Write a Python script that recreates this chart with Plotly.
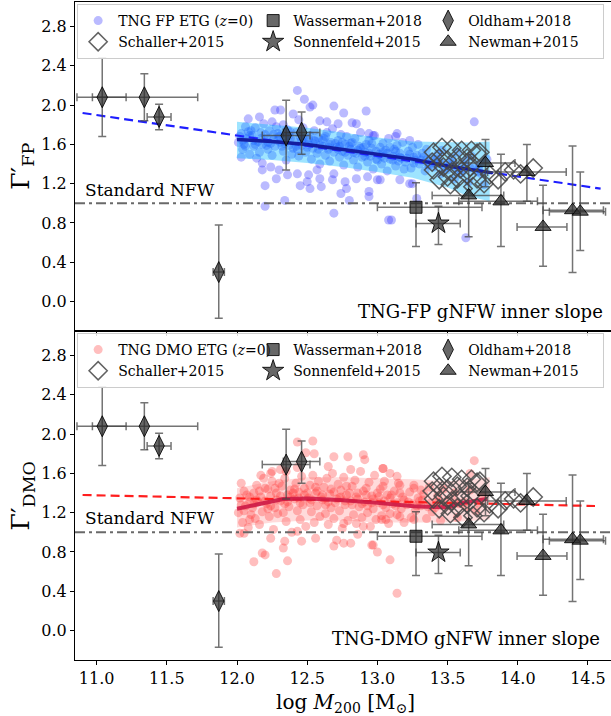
import plotly.graph_objects as go

# ---------------- data ----------------
# TNG FP ETG (z=0) galaxies: (log M200, Gamma'_FP)
fp_etg = [
    (12.01,1.62),(12.03,1.71),(12.04,1.55),(12.06,1.78),(12.07,1.66),(12.09,1.50),(12.05,1.60),(12.08,1.73),
    (12.11,1.69),(12.12,1.58),(12.13,1.77),(12.15,1.63),(12.16,1.52),(12.17,1.72),(12.18,1.60),(12.19,1.81),(12.14,1.46),
    (12.21,1.66),(12.22,1.55),(12.23,1.74),(12.24,1.61),(12.25,1.49),(12.26,1.70),(12.27,1.58),(12.28,1.78),(12.29,1.64),(12.25,1.83),
    (12.31,1.62),(12.32,1.71),(12.33,1.53),(12.34,1.67),(12.35,1.44),(12.36,1.75),(12.37,1.59),(12.38,1.66),(12.39,1.50),(12.33,1.80),
    (12.41,1.63),(12.42,1.72),(12.43,1.55),(12.44,1.48),(12.45,1.68),(12.46,1.59),(12.47,1.77),(12.48,1.62),(12.49,1.52),(12.44,1.85),
    (12.51,1.60),(12.52,1.69),(12.53,1.45),(12.54,1.56),(12.55,1.74),(12.56,1.63),(12.57,1.51),(12.58,1.67),(12.59,1.40),
    (12.61,1.58),(12.62,1.66),(12.63,1.49),(12.64,1.72),(12.65,1.55),(12.66,1.43),(12.67,1.62),(12.68,1.76),(12.69,1.52),
    (12.71,1.57),(12.72,1.64),(12.73,1.47),(12.74,1.70),(12.75,1.53),(12.76,1.39),(12.77,1.60),(12.78,1.68),(12.79,1.49),
    (12.81,1.55),(12.82,1.62),(12.83,1.44),(12.84,1.66),(12.85,1.51),(12.86,1.37),(12.87,1.58),(12.88,1.72),(12.89,1.47),
    (12.91,1.52),(12.92,1.60),(12.93,1.42),(12.94,1.64),(12.95,1.48),(12.96,1.56),(12.97,1.35),(12.98,1.69),(12.99,1.45),
    (13.01,1.50),(13.02,1.57),(13.03,1.40),(13.04,1.61),(13.05,1.46),(13.06,1.54),(13.07,1.33),(13.08,1.66),
    (13.11,1.48),(13.12,1.55),(13.13,1.38),(13.14,1.59),(13.15,1.43),(13.16,1.51),(13.18,1.62),(13.19,1.35),
    (13.21,1.46),(13.22,1.53),(13.24,1.36),(13.25,1.57),(13.26,1.41),(13.28,1.49),(13.29,1.60),
    (13.31,1.44),(13.32,1.51),(13.34,1.33),(13.35,1.55),(13.37,1.39),(13.38,1.47),
    (13.41,1.41),(13.43,1.50),(13.45,1.30),(13.46,1.54),(13.48,1.36),
    (13.51,1.38),(13.53,1.46),(13.55,1.25),(13.57,1.52),(13.58,1.33),
    (13.61,1.35),(13.63,1.44),(13.65,1.22),(13.67,1.48),
    (13.71,1.32),(13.73,1.40),(13.76,1.19),(13.78,1.45),
    # second layer of the dense core
    (12.02,1.68),(12.06,1.58),(12.10,1.74),(12.12,1.64),(12.20,1.70),(12.22,1.62),(12.30,1.68),(12.32,1.58),
    (12.38,1.73),(12.40,1.56),(12.47,1.66),(12.50,1.57),(12.55,1.64),(12.58,1.55),(12.63,1.68),(12.66,1.60),
    (12.72,1.55),(12.75,1.62),(12.80,1.58),(12.83,1.52),(12.88,1.56),(12.91,1.48),(12.96,1.61),(13.00,1.44),
    (13.04,1.52),(13.09,1.45),(13.13,1.53),(13.17,1.46),(13.23,1.50),(13.27,1.44),(13.33,1.47),(13.36,1.40),
    (13.42,1.45),(13.47,1.40),(13.52,1.42),(13.56,1.36),(13.62,1.39),(13.69,1.36),(13.74,1.30),
    # third layer of the dense core
    (12.04,1.64),(12.09,1.69),(12.13,1.60),(12.17,1.66),(12.21,1.59),(12.26,1.65),(12.29,1.71),(12.34,1.61),
    (12.37,1.69),(12.42,1.58),(12.46,1.64),(12.51,1.66),(12.54,1.61),(12.59,1.59),(12.61,1.64),(12.65,1.57),
    (12.70,1.61),(12.73,1.58),(12.77,1.52),(12.81,1.61),(12.86,1.54),(12.90,1.57),(12.94,1.51),(12.99,1.53),
    (13.03,1.48),(13.07,1.51),(13.11,1.44),(13.16,1.47),(13.20,1.42),(13.26,1.47),(13.30,1.40),(13.35,1.44),
    (13.40,1.37),(13.44,1.42),(13.50,1.34),(13.54,1.39),(13.60,1.31),(13.66,1.36),(13.72,1.35),
    # scattered outliers
    (12.43,2.15),(12.48,2.06),(12.52,1.98),(12.54,2.00),(12.69,1.99),(12.76,1.92),(12.92,1.94),(12.27,1.95),
    (12.31,1.95),(12.40,1.91),(12.08,1.86),(12.16,1.88),(12.59,1.84),(12.64,1.83),(12.72,1.81),(12.82,1.82),
    (12.85,1.81),(12.94,1.71),(12.97,1.69),(12.03,1.47),(12.18,1.41),(12.24,1.37),(12.30,1.34),(12.28,1.25),
    (12.20,1.18),(12.36,1.29),(12.43,1.30),(12.51,1.29),(12.45,1.18),(12.50,1.22),(12.52,1.15),(12.60,1.17),
    (12.59,1.25),(12.68,1.24),(12.69,1.30),(12.77,1.22),(12.78,1.15),(12.85,1.25),(12.93,1.27),(13.00,1.24),
    (12.94,1.12),(12.94,1.07),(12.80,1.03),(12.69,0.90),(12.20,0.97),(12.34,1.03),(13.08,0.83),(12.74,1.10),
    (12.57,1.34),(12.18,1.34),(13.69,1.83),(13.14,1.71),(13.13,1.68),(13.23,1.64),(13.09,1.57),(13.16,1.24),
    (13.23,1.20),(13.02,1.24),(13.10,0.83),(13.63,0.65),(13.28,1.05),(13.25,1.20),
]

# TNG DMO ETG (z=0) galaxies: (log M200, Gamma'_DMO)
dmo_etg = [
    (12.01,1.20),(12.02,1.35),(12.04,1.10),(12.05,1.42),(12.06,1.27),(12.08,1.05),(12.09,1.31),(12.03,1.50),
    (12.11,1.25),(12.12,1.40),(12.13,1.14),(12.14,1.48),(12.15,1.31),(12.16,1.08),(12.17,1.36),(12.18,1.21),(12.19,1.55),
    (12.21,1.29),(12.22,1.44),(12.23,1.16),(12.24,1.37),(12.25,1.52),(12.26,1.03),(12.27,1.25),(12.28,1.40),(12.29,1.19),(12.24,1.60),
    (12.31,1.32),(12.32,1.47),(12.33,1.20),(12.34,1.55),(12.35,1.11),(12.36,1.38),(12.37,1.26),(12.38,1.43),(12.39,1.00),(12.35,1.62),
    (12.41,1.34),(12.42,1.50),(12.43,1.22),(12.44,1.41),(12.45,1.13),(12.46,1.57),(12.47,1.28),(12.48,1.45),(12.49,1.06),(12.43,1.66),
    (12.51,1.35),(12.52,1.48),(12.53,1.21),(12.54,1.58),(12.55,1.10),(12.56,1.40),(12.57,1.27),(12.58,1.52),(12.59,1.16),
    (12.61,1.33),(12.62,1.46),(12.63,1.19),(12.64,1.55),(12.65,1.08),(12.66,1.39),(12.67,1.25),(12.68,1.60),(12.69,1.14),
    (12.71,1.34),(12.72,1.49),(12.73,1.22),(12.74,1.43),(12.75,1.04),(12.76,1.56),(12.77,1.28),(12.78,1.38),(12.79,1.12),
    (12.81,1.32),(12.82,1.47),(12.83,1.18),(12.84,1.53),(12.85,1.09),(12.86,1.40),(12.87,1.26),(12.88,1.62),(12.89,1.15),
    (12.91,1.31),(12.92,1.45),(12.93,1.20),(12.94,1.51),(12.95,1.06),(12.96,1.37),(12.97,1.24),(12.98,1.58),(12.99,1.13),
    (13.01,1.30),(13.02,1.44),(13.03,1.17),(13.05,1.52),(13.06,1.25),(13.07,1.38),(13.08,1.09),
    (13.11,1.29),(13.12,1.42),(13.14,1.18),(13.15,1.50),(13.17,1.24),(13.18,1.36),(13.19,1.10),
    (13.21,1.28),(13.23,1.41),(13.24,1.15),(13.26,1.48),(13.27,1.22),(13.29,1.35),
    (13.31,1.27),(13.33,1.39),(13.35,1.14),(13.37,1.46),(13.39,1.21),
    (13.41,1.25),(13.43,1.37),(13.45,1.12),(13.47,1.44),
    (13.52,1.27),(13.55,1.40),(13.57,1.15),
    (13.62,1.31),(13.66,1.43),(13.70,1.22),(13.75,1.37),
    # second layer of the dense core
    (12.03,1.28),(12.07,1.38),(12.10,1.18),(12.14,1.33),(12.20,1.45),(12.22,1.24),(12.28,1.33),(12.30,1.50),
    (12.34,1.29),(12.38,1.36),(12.41,1.44),(12.45,1.30),(12.50,1.40),(12.52,1.30),(12.56,1.46),(12.60,1.36),
    (12.63,1.28),(12.67,1.44),(12.70,1.30),(12.74,1.36),(12.78,1.47),(12.82,1.28),(12.86,1.34),(12.90,1.42),
    (12.93,1.27),(12.97,1.34),(13.00,1.40),(13.04,1.28),(13.09,1.35),(13.13,1.27),(13.16,1.40),(13.22,1.31),
    (13.28,1.27),(13.32,1.33),(13.38,1.30),(13.44,1.30),(13.50,1.33),(13.58,1.29),
    # third layer of the dense core
    (12.05,1.22),(12.09,1.36),(12.12,1.29),(12.16,1.42),(12.20,1.32),(12.24,1.27),(12.27,1.45),(12.31,1.37),
    (12.36,1.31),(12.40,1.40),(12.44,1.35),(12.48,1.38),(12.53,1.33),(12.57,1.42),(12.61,1.38),(12.65,1.31),
    (12.69,1.41),(12.73,1.35),(12.77,1.32),(12.80,1.40),(12.85,1.36),(12.89,1.29),(12.92,1.38),(12.96,1.30),
    (13.01,1.36),(13.05,1.32),(13.10,1.38),(13.14,1.30),(13.19,1.33),(13.25,1.29),(13.30,1.32),(13.36,1.26),
    (13.42,1.31),(13.48,1.27),(13.55,1.31),(13.63,1.26),(13.72,1.30),
    # scattered outliers
    (12.43,1.92),(12.54,1.93),(12.49,1.81),(12.55,1.80),(12.69,1.77),(12.79,1.77),(12.90,1.79),(12.91,1.74),
    (13.04,1.65),(12.17,1.58),(12.25,1.62),(12.31,1.64),(12.65,1.67),(12.81,1.64),(13.09,0.72),(13.00,0.80),
    (12.97,0.87),(12.81,0.89),(12.76,0.89),(12.69,0.86),(12.71,0.92),(12.56,0.94),(12.46,0.91),(12.34,0.91),
    (12.33,0.84),(12.18,0.79),(12.20,0.77),(12.12,0.70),(12.36,0.71),(12.28,0.58),(12.24,0.94),(12.05,0.99),
    (12.02,0.99),(12.09,1.13),(12.43,1.01),(12.86,0.98),(12.76,1.09),(12.90,1.06),(13.06,1.13),(13.69,1.73),
    (13.66,1.60),(13.04,1.65),(13.09,1.60),(13.14,1.57),(13.16,1.48),(13.26,1.45),(13.31,1.43),(13.04,1.47),
    (13.09,1.19),(13.16,1.16),(13.26,1.13),(13.03,1.13),(13.14,0.38),(12.96,0.87),
]

# median relations and 1-sigma bands
fp_med_x = [12.0, 12.25, 12.5, 12.75, 13.0, 13.25, 13.5, 13.75, 13.82]
fp_med_y = [1.65, 1.63, 1.60, 1.55, 1.50, 1.45, 1.38, 1.33, 1.31]
fp_band_x = [12.0, 12.25, 12.5, 12.75, 13.0, 13.25, 13.5, 13.65, 13.8]
fp_band_lo = [1.46, 1.44, 1.41, 1.37, 1.32, 1.26, 1.16, 1.07, 1.02]
fp_band_hi = [1.83, 1.80, 1.77, 1.72, 1.67, 1.63, 1.62, 1.62, 1.63]
fp_fit_x = [10.9, 14.59]
fp_fit_y = [1.92, 1.15]

dmo_med_x = [12.0, 12.15, 12.33, 12.5, 12.73, 13.0, 13.1, 13.26, 13.45, 13.52, 13.6, 13.78]
dmo_med_y = [1.24, 1.29, 1.34, 1.345, 1.33, 1.30, 1.285, 1.265, 1.255, 1.26, 1.30, 1.34]
dmo_band_x = [12.0, 12.25, 12.5, 12.75, 13.0, 13.25, 13.5, 13.8]
dmo_band_lo = [1.05, 1.10, 1.12, 1.12, 1.10, 1.10, 1.10, 1.13]
dmo_band_hi = [1.45, 1.52, 1.56, 1.56, 1.55, 1.54, 1.52, 1.56]
dmo_fit_x = [10.9, 14.55]
dmo_fit_y = [1.38, 1.268]

nfw_x = [10.846, 14.664]
nfw_y = [1.0, 1.0]

# observations
oldham_x = [11.04, 11.34, 11.445, 11.87, 12.35, 12.46]
oldham_y = [2.08, 2.08, 1.88, 0.30, 1.69, 1.72]
oldham_xm = [0.18, 0.37, 0.085, 0.04, 0.17, 0.13]
oldham_xp = [0.17, 0.38, 0.085, 0.04, 0.17, 0.13]
oldham_ym = [0.40, 0.24, 0.13, 0.47, 0.35, 0.22]
oldham_yp = [0.40, 0.24, 0.13, 0.48, 0.36, 0.21]

wass_x = [13.275]; wass_y = [0.96]
wass_xm = [0.275]; wass_xp = [0.47]
wass_ym = [0.40]; wass_yp = [0.25]

sonn_x = [13.435]; sonn_y = [0.795]
sonn_xm = [0.16]; sonn_xp = [0.155]
sonn_ym = [0.215]; sonn_yp = [0.175]

newman_x = [13.65, 13.77, 13.88, 14.065, 14.18, 14.39, 14.445]
newman_y = [1.08, 1.41, 1.02, 1.32, 0.76, 0.93, 0.915]
newman_xm = [0.26, 0.21, 0.30, 0.28, 0.185, 0.21, 0.22]
newman_xp = [0.25, 0.21, 0.26, 0.28, 0.17, 0.22, 0.18]
newman_ym = [0.42, 0.24, 0.46, 0.30, 0.40, 0.635, 0.395]
newman_yp = [0.42, 0.24, 0.48, 0.28, 0.425, 0.655, 0.405]

schaller_x = [13.40, 13.46, 13.53, 13.60, 13.67, 13.73, 13.39, 13.44, 13.50, 13.57, 13.64, 13.71,
              13.40, 13.47, 13.53, 13.59, 13.66, 13.44, 13.50, 13.57, 13.64, 13.71, 13.76, 13.80,
              13.86, 13.91, 13.97, 13.52, 13.61, 13.68, 14.11, 14.02]
schaller_y = [1.52, 1.57, 1.56, 1.54, 1.54, 1.52, 1.42, 1.46, 1.44, 1.47, 1.46, 1.51,
              1.34, 1.37, 1.32, 1.35, 1.37, 1.24, 1.27, 1.25, 1.29, 1.25, 1.20, 1.29,
              1.24, 1.32, 1.34, 1.19, 1.15, 1.17, 1.36, 1.30]

xticks = [11.0, 11.5, 12.0, 12.5, 13.0, 13.5, 14.0, 14.5]
yticks = [0.0, 0.4, 0.8, 1.2, 1.6, 2.0, 2.4, 2.8]

# ---------------- figure ----------------
FONT = "DejaVu Serif, serif"
ERRC = "rgba(70,70,70,0.75)"
MFILL = "rgba(45,45,45,0.72)"
MEDGE = "rgba(0,0,0,0.85)"

fig = go.Figure()

panels = [
    dict(xa="x", ya="y", leg="legend", pts=fp_etg, ptcol="rgba(40,40,255,0.32)",
         legname="TNG FP ETG (<i>z</i>=0)",
         bx=fp_band_x, blo=fp_band_lo, bhi=fp_band_hi, bcol="rgba(0,185,255,0.38)",
         mx=fp_med_x, my=fp_med_y, mcol="rgb(20,30,160)", mw=3.5,
         fx=fp_fit_x, fy=fp_fit_y, fcol="rgb(30,30,255)"),
    dict(xa="x2", ya="y2", leg="legend2", pts=dmo_etg, ptcol="rgba(255,40,40,0.3)",
         legname="TNG DMO ETG (<i>z</i>=0)",
         bx=dmo_band_x, blo=dmo_band_lo, bhi=dmo_band_hi, bcol="rgba(255,90,90,0.22)",
         mx=dmo_med_x, my=dmo_med_y, mcol="rgba(205,25,70,0.9)", mw=4,
         fx=dmo_fit_x, fy=dmo_fit_y, fcol="rgb(255,30,30)"),
]

for p in panels:
    xa, ya, leg = p["xa"], p["ya"], p["leg"]
    px = [q[0] for q in p["pts"]]
    py = [q[1] for q in p["pts"]]
    # simulated galaxies
    fig.add_trace(go.Scatter(x=px, y=py, mode="markers", xaxis=xa, yaxis=ya, legend=leg,
                             name=p["legname"], showlegend=True,
                             marker=dict(size=9, color=p["ptcol"], line=dict(width=0))))
    # band
    fig.add_trace(go.Scatter(x=p["bx"], y=p["bhi"], mode="lines", xaxis=xa, yaxis=ya,
                             line=dict(width=0), showlegend=False, hoverinfo="skip"))
    fig.add_trace(go.Scatter(x=p["bx"], y=p["blo"], mode="lines", xaxis=xa, yaxis=ya,
                             fill="tonexty", fillcolor=p["bcol"],
                             line=dict(width=0), showlegend=False, hoverinfo="skip"))
    # NFW
    fig.add_trace(go.Scatter(x=nfw_x, y=nfw_y, mode="lines", xaxis=xa, yaxis=ya, showlegend=False,
                             line=dict(color="rgb(105,105,105)", width=2, dash="10px,4px,3px,4px")))
    # fit (dashed)
    fig.add_trace(go.Scatter(x=p["fx"], y=p["fy"], mode="lines", xaxis=xa, yaxis=ya, showlegend=False,
                             line=dict(color=p["fcol"], width=2.2, dash="9px,5px")))
    # median
    fig.add_trace(go.Scatter(x=p["mx"], y=p["my"], mode="lines", xaxis=xa, yaxis=ya, showlegend=False,
                             line=dict(color=p["mcol"], width=p["mw"])))

    def obs(x, y, xm, xp, ym, yp, name, symbol, size):
        fig.add_trace(go.Scatter(
            x=x, y=y, mode="markers", xaxis=xa, yaxis=ya, legend=leg, name=name,
            marker=dict(symbol=symbol, size=size, color=MFILL, line=dict(color=MEDGE, width=1)),
            error_x=dict(type="data", symmetric=False, array=xp, arrayminus=xm,
                         color=ERRC, thickness=1.5, width=4),
            error_y=dict(type="data", symmetric=False, array=yp, arrayminus=ym,
                         color=ERRC, thickness=1.5, width=4)))

    # legend order (row-wise): TNG, Wasserman, Oldham, Schaller, Sonnenfeld, Newman
    obs(wass_x, wass_y, wass_xm, wass_xp, wass_ym, wass_yp, "Wasserman+2018", "square", 12)
    obs(oldham_x, oldham_y, oldham_xm, oldham_xp, oldham_ym, oldham_yp, "Oldham+2018", "diamond-tall", 15)
    fig.add_trace(go.Scatter(x=schaller_x, y=schaller_y, mode="markers", xaxis=xa, yaxis=ya,
                             legend=leg, name="Schaller+2015",
                             marker=dict(symbol="diamond-open", size=14,
                                         color="rgba(70,70,70,0.85)", line=dict(width=1.5))))
    obs(sonn_x, sonn_y, sonn_xm, sonn_xp, sonn_ym, sonn_yp, "Sonnenfeld+2015", "star", 16)
    obs(newman_x, newman_y, newman_xm, newman_xp, newman_ym, newman_yp, "Newman+2015", "triangle-up", 14)

axis_common = dict(showgrid=False, zeroline=False, showline=True, mirror=True,
                   linecolor="black", linewidth=1.2, ticks="outside", ticklen=4,
                   tickcolor="black", tickwidth=1.1,
                   tickfont=dict(family=FONT, size=16, color="black"))

xr = [10.846, 14.664]
yr = [-0.3, 3.05]
ytext = ["%.1f" % v for v in yticks]
xtext = ["%.1f" % v for v in xticks]

legend_common = dict(orientation="h", xanchor="left", yanchor="top", traceorder="normal",
                     font=dict(family=FONT, size=14, color="black"),
                     bgcolor="rgba(255,255,255,0.85)", bordercolor="#cccccc", borderwidth=1,
                     itemwidth=30, entrywidth=130, entrywidthmode="pixels", tracegroupgap=0)

fig.update_layout(
    width=611, height=716,
    font=dict(family=FONT, color="black"),
    margin=dict(l=75, r=0, t=2, b=56),
    plot_bgcolor="white", paper_bgcolor="white",
    xaxis=dict(domain=[0, 1], range=xr, anchor="y", tickvals=xticks, showticklabels=False, **axis_common),
    yaxis=dict(domain=[0.5, 1], range=yr, anchor="x", tickvals=yticks, ticktext=ytext, **axis_common),
    xaxis2=dict(domain=[0, 1], range=xr, anchor="y2", tickvals=xticks, ticktext=xtext, **axis_common),
    yaxis2=dict(domain=[0, 0.5], range=yr, anchor="x2", tickvals=yticks, ticktext=ytext, **axis_common),
    legend=dict(x=0.004, y=0.997, **legend_common),
    legend2=dict(x=0.004, y=0.497, **legend_common),
    showlegend=True,
)

ann = []
ann.append(dict(text="Standard NFW", x=10.9, y=1.135, xref="x", yref="y", xanchor="left", yanchor="middle",
                showarrow=False, font=dict(family=FONT, size=17, color="black")))
ann.append(dict(text="Standard NFW", x=10.9, y=1.146, xref="x2", yref="y2", xanchor="left", yanchor="middle",
                showarrow=False, font=dict(family=FONT, size=17, color="black")))
ann.append(dict(text="TNG-FP gNFW inner slope", x=0.989, y=-0.097, xref="paper", yref="y",
                xanchor="right", yanchor="middle", showarrow=False,
                font=dict(family=FONT, size=18, color="black")))
ann.append(dict(text="TNG-DMO gNFW inner slope", x=0.983, y=-0.076, xref="paper", yref="y2",
                xanchor="right", yanchor="middle", showarrow=False,
                font=dict(family=FONT, size=18, color="black")))
ann.append(dict(text="log <i>M</i><sub>200</sub> [M<sub>⊙</sub>]", x=0.504, y=-0.065, xref="paper", yref="paper",
                xanchor="center", yanchor="middle", showarrow=False,
                font=dict(family=FONT, size=20, color="black")))
ann.append(dict(text="Γ′<sub>FP</sub>", x=-0.099, y=0.751, xref="paper", yref="paper", textangle=-90,
                xanchor="center", yanchor="middle", showarrow=False,
                font=dict(family=FONT, size=25, color="black")))
ann.append(dict(text="Γ′<sub>DMO</sub>", x=-0.099, y=0.25, xref="paper", yref="paper", textangle=-90,
                xanchor="center", yanchor="middle", showarrow=False,
                font=dict(family=FONT, size=25, color="black")))
fig.update_layout(annotations=ann)

fig.write_html("out.html")
